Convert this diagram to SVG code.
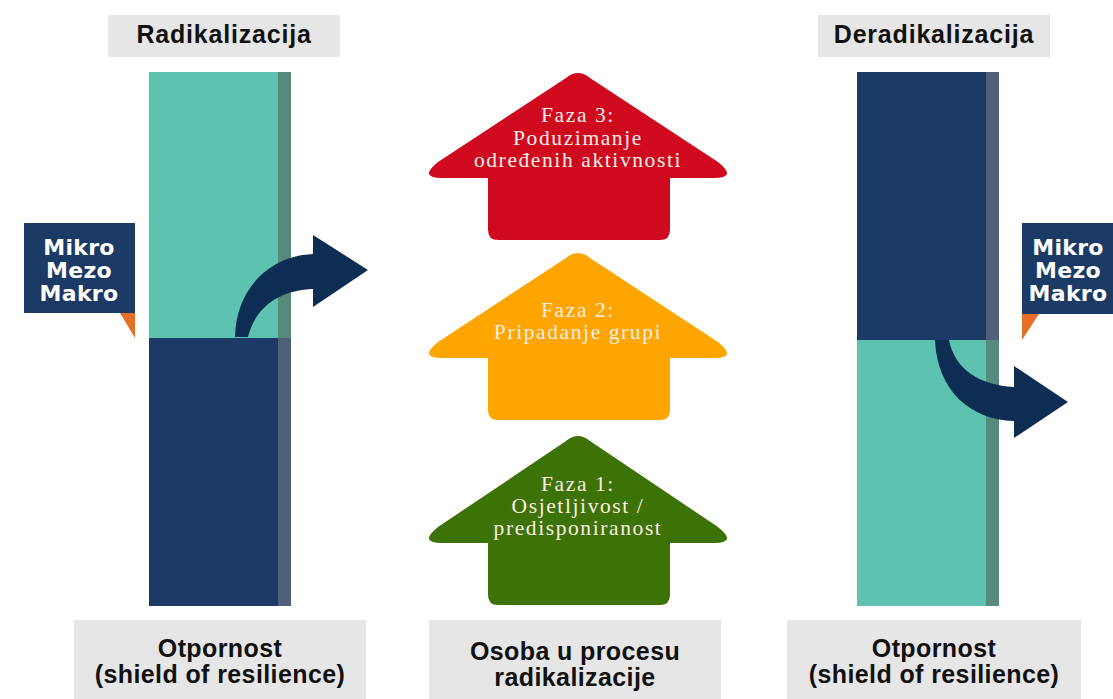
<svg xmlns="http://www.w3.org/2000/svg" width="1113" height="699" viewBox="0 0 1113 699">
<style>
.lbl{fill:#e6e6e6}
.ttl{font-family:"Liberation Sans",Arial,sans-serif;font-weight:bold;font-size:25px;fill:#111;text-anchor:middle;letter-spacing:0.8px}
.bot{font-family:"Liberation Sans",Arial,sans-serif;font-weight:bold;font-size:25px;fill:#111;text-anchor:middle;letter-spacing:0.4px}
.call{font-family:"DejaVu Sans",sans-serif;font-weight:bold;font-size:22px;fill:#fff;text-anchor:middle;letter-spacing:0.3px}
.ph{font-family:"Liberation Serif","Times New Roman",serif;font-size:21.5px;fill:#fbeee6;text-anchor:middle;letter-spacing:1.6px}
.teal{fill:#5dc3b0}.tealS{fill:#558a7c}.navy{fill:#1c3a66}.navyS{fill:#4f607a}
.cbox{fill:#1c3a66}.ctri{fill:#e46f26}.carrow{fill:#0e2d52}
</style>

<g id="title-left"><rect class="lbl" x="108" y="15" width="232" height="42"/><text class="ttl" x="224" y="43">Radikalizacija</text></g>
<g id="title-right"><rect class="lbl" x="818" y="15" width="232" height="42"/><text class="ttl" x="934" y="43">Deradikalizacija</text></g>

<g id="bar-left">
<rect class="teal" x="149" y="72" width="129" height="266"/>
<rect class="tealS" x="278" y="72" width="13" height="266"/>
<rect class="navy" x="149" y="338" width="129" height="268"/>
<rect class="navyS" x="278" y="338" width="13" height="268"/>
</g>
<g id="bar-right">
<rect class="navy" x="857" y="72" width="129" height="268"/>
<rect class="navyS" x="986" y="72" width="13" height="268"/>
<rect class="teal" x="857" y="340" width="129" height="266"/>
<rect class="tealS" x="986" y="340" width="13" height="266"/>
</g>

<g id="callout-left">
<rect class="cbox" x="24" y="223" width="111" height="90"/>
<polygon class="ctri" points="120,313 135,313 135,338"/>
<text class="call" x="79" y="255">Mikro</text>
<text class="call" x="79" y="278">Mezo</text>
<text class="call" x="79" y="301">Makro</text>
</g>
<g id="callout-right">
<rect class="cbox" x="1022" y="223" width="91" height="91"/>
<polygon class="ctri" points="1022,314 1039,314 1022,340"/>
<text class="call" x="1068" y="255">Mikro</text>
<text class="call" x="1068" y="278">Mezo</text>
<text class="call" x="1068" y="301">Makro</text>
</g>

<g id="phase-3">
<path fill="#cf0a1e" d="M566 78 Q578 68 590 78 L718 162 Q738 178 714 178 L670 178 L670 230 Q670 240 660 240 L498 240 Q488 240 488 230 L488 178 L442 178 Q418 178 438 162 Z"/>
<text class="ph" x="578" y="122">Faza 3:</text>
<text class="ph" x="578" y="145">Poduzimanje</text>
<text class="ph" x="578" y="167">određenih aktivnosti</text>
</g>
<g id="phase-2">
<path fill="#fea500" d="M566 258 Q578 248 590 258 L718 342 Q738 358 714 358 L670 358 L670 410 Q670 420 660 420 L498 420 Q488 420 488 410 L488 358 L442 358 Q418 358 438 342 Z"/>
<text class="ph" x="578" y="317">Faza 2:</text>
<text class="ph" x="578" y="339">Pripadanje grupi</text>
</g>
<g id="phase-1">
<path fill="#3d7306" d="M566 441 Q578 431 590 441 L718 527 Q738 543 714 543 L670 543 L670 595 Q670 605 660 605 L498 605 Q488 605 488 595 L488 543 L442 543 Q418 543 438 527 Z"/>
<text class="ph" x="578" y="491">Faza 1:</text>
<text class="ph" x="578" y="513">Osjetljivost /</text>
<text class="ph" x="578" y="535">predisponiranost</text>
</g>

<g id="label-left"><rect class="lbl" x="74" y="620" width="292" height="79"/><text class="bot" x="220" y="657">Otpornost</text><text class="bot" x="220" y="683">(shield of resilience)</text></g>
<g id="label-mid"><rect class="lbl" x="429" y="620" width="292" height="79"/><text class="bot" x="575" y="660">Osoba u procesu</text><text class="bot" x="575" y="686">radikalizacije</text></g>
<g id="label-right"><rect class="lbl" x="787" y="620" width="294" height="79"/><text class="bot" x="934" y="657">Otpornost</text><text class="bot" x="934" y="683">(shield of resilience)</text></g>

<g id="connectors">
<path class="carrow" d="M235 337 C236 290 268 256 313 254 L313 235 L368 270 L313 307 L313 289 C282 290 256 305 248 337 Z"/>
<path class="carrow" d="M935 340 C937 390 970 420 1014 421 L1014 438 L1068 402 L1014 366 L1014 387 C980 385 955 370 949 340 Z"/>
</g>
</svg>
